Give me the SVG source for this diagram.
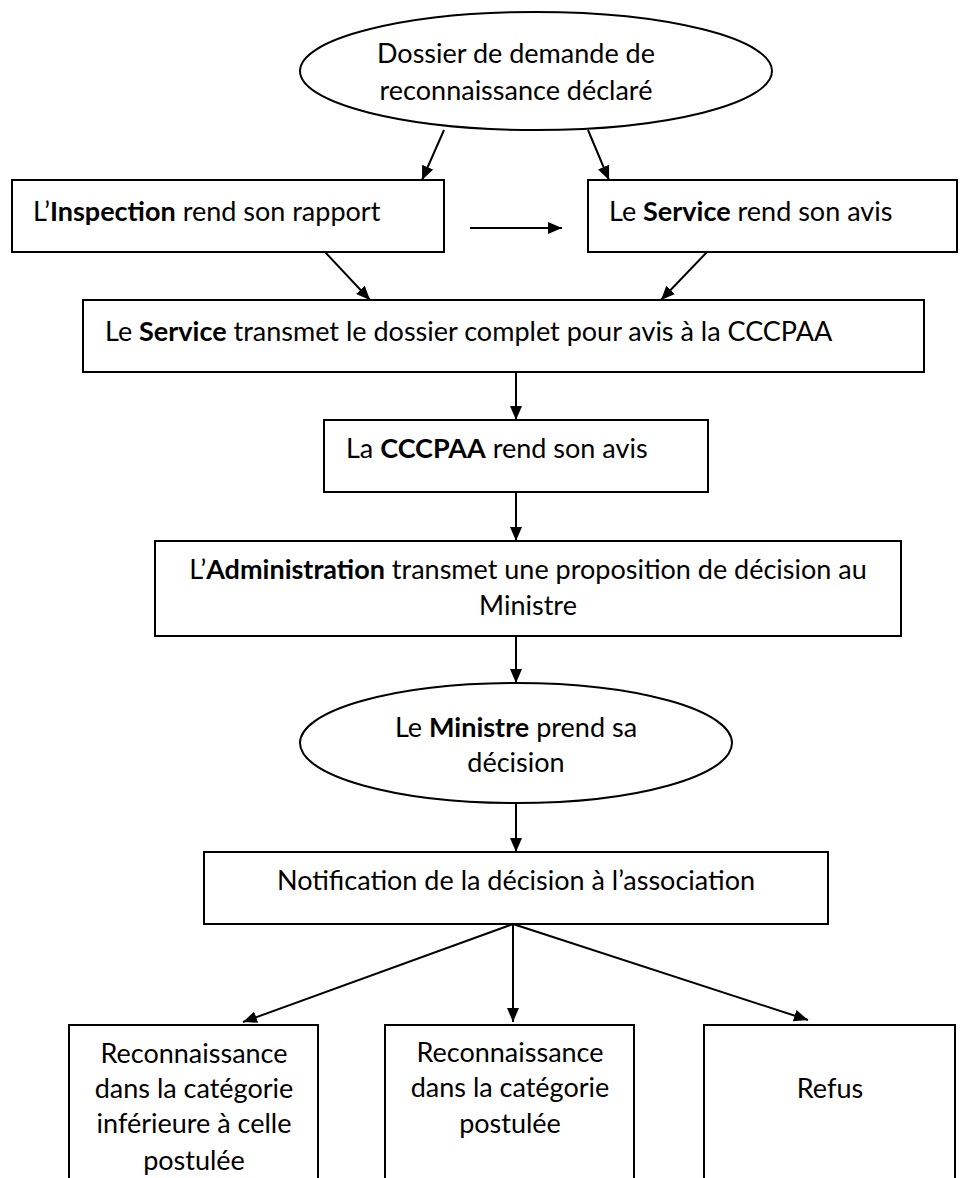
<svg xmlns="http://www.w3.org/2000/svg" width="960" height="1178" viewBox="0 0 960 1178">
<style>
.shape{fill:#fff;stroke:#000;stroke-width:2}
.t{font-family:Lato,"Liberation Sans",sans-serif;font-size:27px;fill:#000}
.m{text-anchor:middle}
.b{font-weight:bold}
.c{stroke:#000;stroke-width:2;fill:none;marker-end:url(#ah)}
</style>
<defs>
<marker id="ah" markerUnits="userSpaceOnUse" markerWidth="14" markerHeight="12" refX="14" refY="6" orient="auto">
<path d="M0,0 L14,6 L0,12 z" fill="#000"/>
</marker>
</defs>
<rect width="960" height="1178" fill="#fff"/>
<g id="n1">
<ellipse class="shape" cx="536" cy="71" rx="236" ry="59"/>
<text class="t m" x="516" y="63">Dossier de demande de</text>
<text class="t m" x="516" y="100">reconnaissance déclaré</text>
</g>
<g id="n2">
<rect class="shape" x="12" y="180" width="432" height="72"/>
<text class="t" x="33" y="221">L’<tspan class="b">Inspection</tspan> rend son rapport</text>
</g>
<g id="n3">
<rect class="shape" x="588" y="180" width="369" height="72"/>
<text class="t" x="609" y="221">Le <tspan class="b">Service</tspan> rend son avis</text>
</g>
<g id="n4">
<rect class="shape" x="83" y="300" width="841" height="72"/>
<text class="t" x="105" y="341">Le <tspan class="b">Service</tspan> transmet le dossier complet pour avis à la CCCPAA</text>
</g>
<g id="n5">
<rect class="shape" x="324" y="420" width="384" height="72"/>
<text class="t" x="346" y="458">La <tspan class="b">CCCPAA</tspan> rend son avis</text>
</g>
<g id="n6">
<rect class="shape" x="155" y="541" width="746" height="95"/>
<text class="t m" x="528" y="579">L’<tspan class="b">Administration</tspan> transmet une proposition de décision au</text>
<text class="t m" x="528" y="615">Ministre</text>
</g>
<g id="n7">
<ellipse class="shape" cx="516" cy="743" rx="216" ry="60"/>
<text class="t m" x="516" y="737">Le <tspan class="b">Ministre</tspan> prend sa</text>
<text class="t m" x="516" y="772">décision</text>
</g>
<g id="n8">
<rect class="shape" x="204" y="852" width="624" height="72"/>
<text class="t m" x="516" y="890">Notification de la décision à l’association</text>
</g>
<g id="n9">
<rect class="shape" x="69" y="1025" width="249" height="170"/>
<text class="t m" x="194" y="1063">Reconnaissance</text>
<text class="t m" x="194" y="1098">dans la catégorie</text>
<text class="t m" x="194" y="1133">inférieure à celle</text>
<text class="t m" x="194" y="1170">postulée</text>
</g>
<g id="n10">
<rect class="shape" x="385" y="1025" width="249" height="170"/>
<text class="t m" x="510" y="1062">Reconnaissance</text>
<text class="t m" x="510" y="1097">dans la catégorie</text>
<text class="t m" x="510" y="1133">postulée</text>
</g>
<g id="n11">
<rect class="shape" x="704" y="1025" width="251" height="170"/>
<text class="t m" x="830" y="1098">Refus</text>
</g>
<g id="connectors">
<line class="c" x1="444" y1="130" x2="422" y2="180"/>
<line class="c" x1="588" y1="130" x2="609" y2="180"/>
<line class="c" x1="470" y1="228" x2="562" y2="228"/>
<line class="c" x1="325" y1="252" x2="370" y2="300"/>
<line class="c" x1="707" y1="252" x2="661" y2="300"/>
<line class="c" x1="516" y1="372" x2="516" y2="420"/>
<line class="c" x1="516" y1="492" x2="516" y2="541"/>
<line class="c" x1="516" y1="636" x2="516" y2="683"/>
<line class="c" x1="516" y1="803" x2="516" y2="852"/>
<line class="c" x1="513" y1="924" x2="243" y2="1022"/>
<line class="c" x1="513" y1="924" x2="513" y2="1022"/>
<line class="c" x1="513" y1="924" x2="808" y2="1020"/>
</g>
</svg>
